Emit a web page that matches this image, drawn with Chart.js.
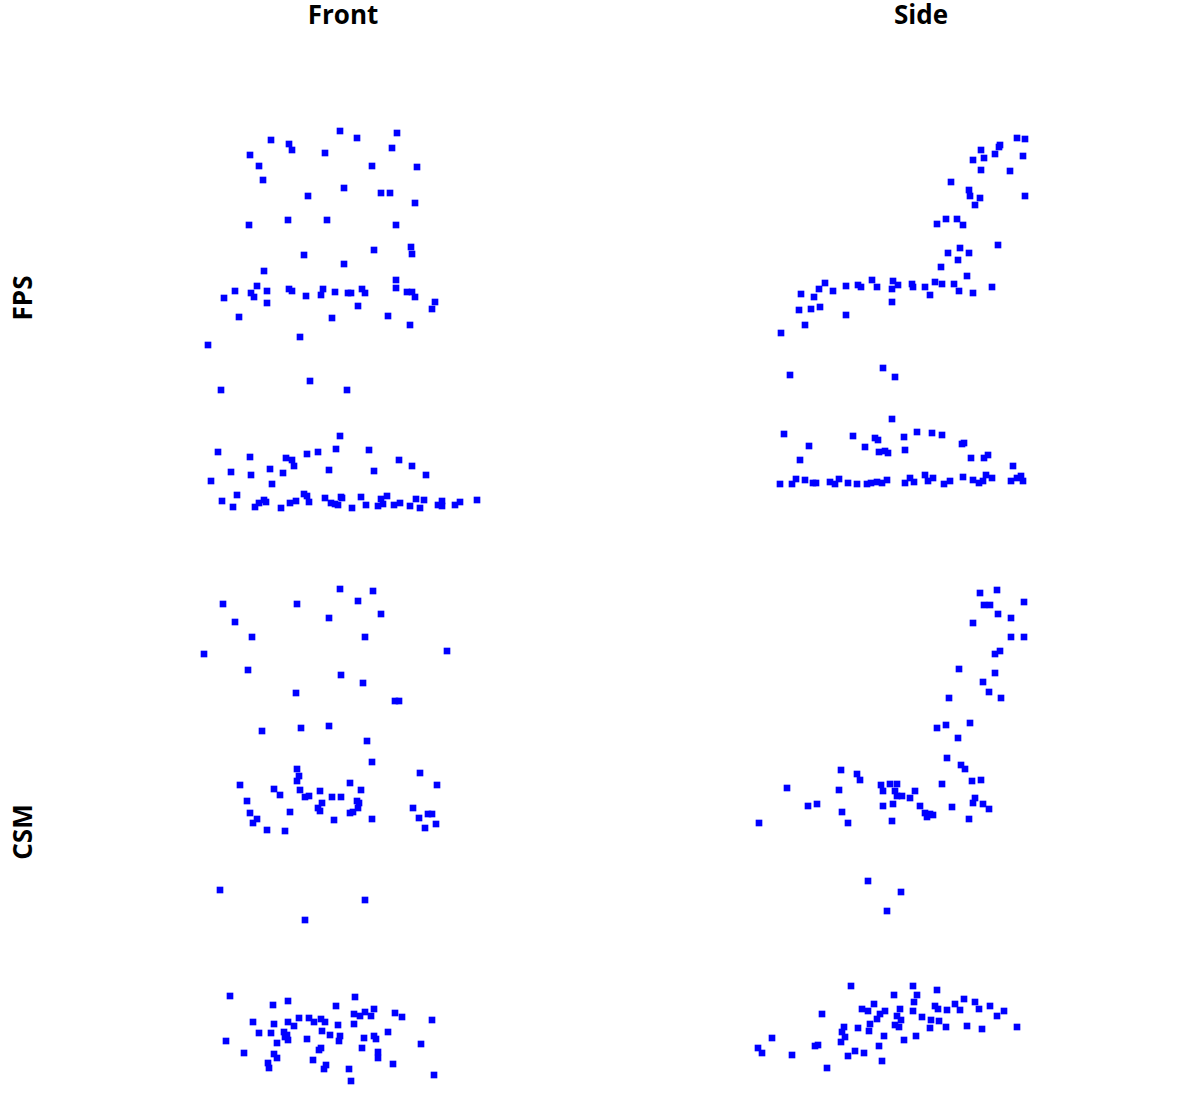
<!DOCTYPE html>
<html>
<head>
<meta charset="utf-8">
<script src="https://cdn.jsdelivr.net/npm/chart.js@4.4.1/dist/chart.umd.min.js"></script>
<style>
  html, body { margin: 0; padding: 0; background: #fff; }
  #page { position: relative; width: 1196px; height: 1095px; overflow: hidden; font-family: "Open Sans", sans-serif; }
  .title { position: absolute; font-size: 26px; font-weight: 700; color: #000; transform: translate(-50%, -50%); white-space: nowrap; }
  .rowlabel { position: absolute; font-size: 26px; font-weight: 700; color: #000; transform: translate(-50%, -50%) rotate(-90deg); white-space: nowrap; }
  canvas { position: absolute; }
</style>
</head>
<body>
<div id="page">
  <div class="title" style="left:343px; top:14px;">Front</div>
  <div class="title" style="left:921px; top:14px;">Side</div>
  <div class="rowlabel" style="left:22px; top:298px;">FPS</div>
  <div class="rowlabel" style="left:22px; top:832px;">CSM</div>
  <canvas id="frontFps" width="300" height="400" style="left:190px; top:120px;"></canvas>
  <canvas id="sideFps" width="270" height="370" style="left:765px; top:125px;"></canvas>
  <canvas id="frontCsm" width="265" height="510" style="left:195px; top:580px;"></canvas>
  <canvas id="sideCsm" width="290" height="500" style="left:745px; top:580px;"></canvas>
</div>
<script>
// values, [x, y] (y grows downward)
const frontFPS = [
  [340,131],[357,138],[397,133],[271,140],[289,144],[292,150],[392,148],[250,155],[325,153],
  [259,166],[372,166],[417,167],[263,180],[344,188],[381,193],[390,193],[308,196],[415,203],
  [249,225],[288,220],[327,220],[396,225],[411,247],[412,254],[374,250],[304,255],[344,264],
  [264,271],[396,280],[257,286],[396,288],[235,291],[251,293],[254,297],[267,291],[267,303],
  [289,289],[292,291],[306,296],[323,289],[321,295],[335,292],[348,293],[351,293],[362,289],
  [365,293],[407,292],[412,292],[415,297],[435,302],[432,309],[224,298],[358,306],[239,317],
  [332,318],[388,316],[410,325],[300,337],[208,345],[310,381],[221,390],[347,390],
  [340,436],[218,452],[250,457],[286,458],[292,460],[294,466],[307,454],[318,452],[336,449],
  [231,472],[251,475],[270,469],[283,473],[329,470],[211,481],[272,484],[237,495],[222,501],
  [233,507],[255,507],[259,503],[264,500],[266,502],[281,508],[290,503],[296,501],[304,494],
  [307,496],[309,502],[325,498],[331,503],[335,504],[341,497],[338,505],
  [369,450],[399,460],[412,466],[426,475],[374,471],[342,498],[352,508],[361,497],[366,505],
  [378,506],[383,504],[387,496],[381,499],[394,505],[400,503],[410,506],[416,499],[420,508],
  [424,500],[438,505],[442,501],[442,506],[455,505],[460,502],[477,500]
];

const sideFPS = [
  [1017,138],[1025,139],[981,150],[1000,145],[999,147],[995,154],[984,158],[973,160],[1023,156],
  [981,170],[1010,171],[951,182],[969,190],[970,196],[980,198],[975,205],[1025,196],
  [946,219],[957,219],[937,224],[963,225],[998,245],[948,253],[960,248],[969,253],[958,260],
  [941,267],[967,276],[825,283],[819,289],[801,294],[814,297],[833,291],[846,286],[858,285],
  [861,287],[872,280],[877,287],[893,281],[892,289],[898,285],[912,284],[913,287],[925,287],
  [930,295],[935,282],[942,284],[954,284],[959,291],[973,293],[992,287],[892,302],[799,310],
  [811,309],[820,307],[846,315],
  [781,333],[805,325],[790,375],[883,368],[895,377],[892,419],[784,434],[809,446],[800,460],
  [853,436],[865,447],[875,438],[878,440],[879,452],[885,451],[888,453],[904,437],[905,450],
  [917,432],[932,433],[942,435],[962,444],[964,443],[971,458],[984,458],[988,455],[1013,466],
  [780,484],[792,484],[796,479],[805,480],[813,483],[816,483],[830,482],[835,484],[839,479],
  [848,483],[857,484],[867,484],[871,483],[877,482],[882,483],[887,480],[905,483],[910,478],
  [914,482],[925,475],[928,481],[933,478],[944,484],[950,481],[963,477],[973,480],[979,483],
  [983,481],[986,475],[992,478],[1011,481],[1017,478],[1021,476],[1023,481]
];

const frontCSM = [
  [340,589],[373,591],[358,601],[223,604],[297,604],[381,614],[329,618],[235,622],[252,637],
  [365,637],[204,654],[447,651],[248,670],[341,675],[363,683],[296,693],[395,701],[399,701],
  [262,731],[301,728],[329,726],[367,741],[372,762],[420,773],[297,769],[299,776],[297,781],
  [240,785],[437,785],[274,789],[280,795],[300,790],[305,797],[309,796],[320,791],[350,783],
  [361,790],[247,801],[322,803],[332,797],[341,797],[357,801],[359,803],[358,808],[318,808],
  [320,811],[350,813],[353,812],[290,812],[250,813],[257,819],[253,823],[267,830],[285,831],
  [334,820],[372,819],[413,808],[419,818],[428,814],[432,814],[436,824],[425,828],
  [220,890],[365,900],[305,920],
  [230,996],[273,1005],[288,1001],[355,997],[336,1006],[253,1022],[274,1024],[288,1022],
  [294,1026],[299,1018],[309,1018],[314,1022],[321,1019],[325,1022],[354,1014],[354,1024],
  [360,1016],[365,1012],[374,1009],[371,1016],[395,1013],[402,1017],[432,1020],[338,1025],
  [259,1033],[271,1033],[284,1032],[287,1035],[288,1040],[285,1037],[322,1031],[330,1035],
  [340,1036],[339,1041],[307,1039],[226,1041],[277,1043],[364,1038],[374,1036],[376,1039],
  [388,1032],[362,1048],[321,1048],[319,1050],[244,1053],[274,1054],[277,1058],[378,1052],
  [378,1058],[421,1044],[313,1060],[268,1063],[269,1068],[326,1065],[324,1069],[393,1064],
  [349,1069],[351,1081],[434,1075]
];

const sideCSM = [
  [980,593],[997,590],[1024,602],[984,605],[990,605],[998,614],[1011,618],[973,623],[1011,637],
  [1024,637],[995,654],[1000,651],[959,669],[995,673],[983,682],[989,692],[1001,698],[949,698],
  [970,723],[937,728],[946,725],[958,738],[947,758],
  [961,765],[965,769],[972,781],[981,780],[942,784],[841,770],[857,774],[860,780],[787,788],
  [839,790],[881,785],[883,791],[890,784],[897,784],[895,791],[897,796],[902,796],[915,791],
  [910,798],[893,804],[883,806],[808,806],[817,804],[842,812],[920,806],[925,813],[927,817],
  [930,814],[933,815],[952,807],[975,798],[973,803],[983,804],[989,809],[969,819],[759,823],
  [848,823],[892,821],[868,881],[901,892],[887,911],
  [851,986],[913,986],[937,990],[894,995],[917,995],[964,999],[914,1002],[955,1004],[975,1002],
  [990,1006],[874,1004],[862,1009],[868,1011],[885,1011],[880,1014],[900,1009],[913,1011],
  [935,1006],[938,1009],[947,1010],[960,1010],[979,1009],[1004,1011],[997,1016],[822,1014],
  [897,1016],[922,1017],[931,1020],[939,1021],[877,1019],[870,1024],[895,1025],[901,1020],
  [899,1027],[946,1027],[930,1028],[967,1026],[982,1029],[1017,1027],[844,1027],[842,1032],
  [858,1028],[869,1031],[845,1037],[841,1042],[884,1036],[916,1036],[904,1040],[772,1038],
  [758,1048],[762,1053],[792,1055],[815,1046],[818,1045],[879,1046],[855,1051],[848,1056],
  [864,1053],[882,1061],[827,1068]
];

function makePanel(id, points, xMin, xMax, yMin, yMax) {
    const ctx = document.getElementById(id).getContext('2d');
    return new Chart(ctx, {
        type: 'scatter',
        data: {
            datasets: [{
                data: points.map(p => ({ x: p[0], y: p[1] })),
                pointStyle: 'rect',
                pointRadius: 4.7,
                pointBorderWidth: 0,
                backgroundColor: '#0000ff',
                borderColor: '#0000ff',
                clip: false
            }]
        },
        options: {
            responsive: false,
            animation: false,
            devicePixelRatio: 1,
            layout: { padding: 0, autoPadding: false },
            plugins: { legend: { display: false }, tooltip: { enabled: false } },
            scales: {
                x: { type: 'linear', min: xMin, max: xMax, display: false },
                y: { type: 'linear', min: yMin, max: yMax, reverse: true, display: false }
            }
        }
    });
}

makePanel('frontFps', frontFPS, 190, 490, 120, 520);
makePanel('sideFps', sideFPS, 765, 1035, 125, 495);
makePanel('frontCsm', frontCSM, 195, 460, 580, 1090);
makePanel('sideCsm', sideCSM, 745, 1035, 580, 1080);
</script>
</body>
</html>
